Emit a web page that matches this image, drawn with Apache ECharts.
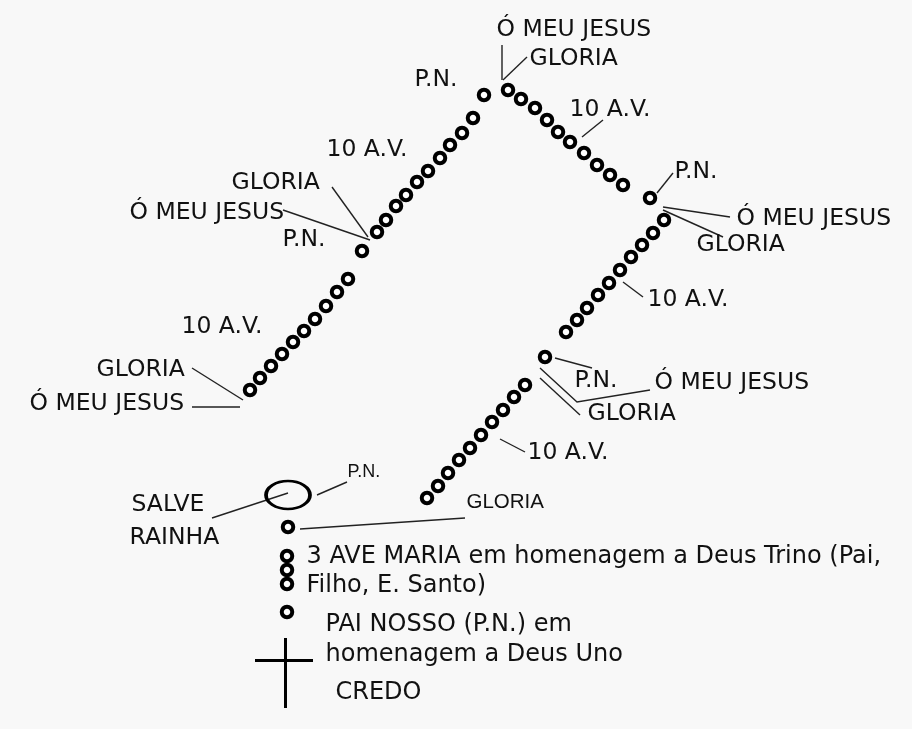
<!DOCTYPE html>
<html>
<head>
<meta charset="utf-8">
<script src="https://cdn.jsdelivr.net/npm/echarts@6/dist/echarts.min.js"></script>
<style>
  html, body { margin: 0; padding: 0; background: #f8f8f8; }
  #chart { width: 912px; height: 729px; }
</style>
</head>
<body>
<div id="chart"></div>
<script>
// Bead positions (x, y in picture pixels, y down)
const decade1 = [[250,390],[260,378],[271,366],[282,354],[293,342],[304,331],[315,319],[326,306],[337,292],[348,279]];
const decade2 = [[377,232],[386,220],[396,206],[406,195],[417,182],[428,171],[440,158],[450,145],[462,133],[473,118]];
const decade3 = [[508,90],[521,99],[535,108],[547,120],[558,132],[570,142],[584,153],[597,165],[610,175],[623,185]];
const decade4 = [[664,220],[653,233],[642,245],[631,257],[620,270],[609,283],[598,295],[587,308],[577,320],[566,332]];
const decade5 = [[525,385],[514,397],[503,410],[492,422],[481,435],[470,448],[459,460],[448,473],[438,486],[427,498]];
const paiNossoBeads = [[362,251],[484,95],[650,198],[545,357]];
const pendantBeads = [[288,527],[287,556],[287,570],[287,584],[287,612]];
const medal = [[288,495]];

// Text labels: [text, left x, middle y]
const mainLabels = [
  ['Ó MEU JESUS', 497, 30],
  ['GLORIA', 530, 59],
  ['P.N.', 415, 80],
  ['10 A.V.', 570, 110],
  ['10 A.V.', 327, 150],
  ['GLORIA', 232, 183],
  ['Ó MEU JESUS', 130, 213],
  ['P.N.', 283, 240],
  ['P.N.', 675, 172],
  ['Ó MEU JESUS', 737, 219],
  ['GLORIA', 697, 245],
  ['10 A.V.', 648, 300],
  ['10 A.V.', 182, 327],
  ['GLORIA', 97, 370],
  ['Ó MEU JESUS', 30, 404],
  ['P.N.', 575, 381],
  ['Ó MEU JESUS', 655, 383],
  ['GLORIA', 588, 414],
  ['10 A.V.', 528, 453],
  ['SALVE', 132, 505],
  ['RAINHA', 130, 538]
];
const noteLabels = [
  ['3 AVE MARIA em homenagem a Deus Trino (Pai,', 307, 557],
  ['Filho, E. Santo)', 307, 586],
  ['PAI NOSSO (P.N.) em', 326, 625],
  ['homenagem a Deus Uno', 326, 655],
  ['CREDO', 336, 693]
];
const smallPN = [['P.N.', 348, 473]];
const smallGloria = [['GLORIA', 467, 503]];

// Leader lines from labels to beads
const leaders = [
  [[502,45],[502,80]],
  [[503,80],[527,57]],
  [[582,137],[603,120]],
  [[657,193],[673,173]],
  [[663,207],[730,217]],
  [[663,210],[723,237]],
  [[332,187],[368,237]],
  [[283,210],[370,240]],
  [[192,368],[243,400]],
  [[192,407],[240,407]],
  [[623,282],[643,297]],
  [[555,358],[592,368]],
  [[540,368],[577,402],[650,390]],
  [[540,378],[580,415]],
  [[500,439],[525,452]],
  [[317,495],[347,482]],
  [[212,518],[288,493]],
  [[300,529],[465,518]]
];
const cross = [
  [[285,638],[285,708]],
  [[255,660],[313,660]]
];

const chart = echarts.init(document.getElementById('chart'));

function textSeries(list, font, size) {
  return {
    type: 'scatter',
    silent: true,
    symbolSize: 1,
    itemStyle: { color: 'rgba(0,0,0,0)', opacity: 1 },
    data: list.map(d => ({ name: d[0], value: [d[1], d[2]] })),
    label: {
      show: true,
      position: [0, 0],
      align: 'left',
      verticalAlign: 'middle',
      formatter: '{b}',
      color: '#111',
      opacity: 1,
      fontFamily: font,
      fontSize: size
    },
    z: 5
  };
}

const allBeads = [].concat(decade1, decade2, decade3, decade4, decade5, paiNossoBeads, pendantBeads);

chart.setOption({
  animation: false,
  backgroundColor: '#f8f8f8',
  grid: { left: 0, right: 0, top: 0, bottom: 0 },
  xAxis: { type: 'value', min: 0, max: 912, show: false },
  yAxis: { type: 'value', min: 0, max: 729, inverse: true, show: false },
  series: [
    {
      type: 'lines',
      coordinateSystem: 'cartesian2d',
      polyline: true,
      silent: true,
      data: leaders.map(c => ({ coords: c })),
      lineStyle: { color: '#222', width: 1.4, opacity: 1 }
    },
    {
      type: 'lines',
      coordinateSystem: 'cartesian2d',
      silent: true,
      data: cross.map(c => ({ coords: c })),
      lineStyle: { color: '#000', width: 3, opacity: 1 }
    },
    {
      type: 'scatter',
      silent: true,
      symbol: 'circle',
      symbolSize: 10.5,
      data: allBeads,
      itemStyle: { color: '#fff', borderColor: '#000', borderWidth: 4, opacity: 1 },
      z: 3
    },
    {
      type: 'scatter',
      silent: true,
      symbol: 'circle',
      symbolSize: [44, 28],
      data: medal,
      itemStyle: { color: 'rgba(0,0,0,0)', borderColor: '#000', borderWidth: 3, opacity: 1 },
      z: 3
    },
    textSeries(mainLabels, 'DejaVu Sans', 23.5),
    textSeries(noteLabels, 'DejaVu Sans', 24),
    textSeries(smallPN, 'Liberation Sans', 18),
    textSeries(smallGloria, 'Liberation Sans', 20.5)
  ]
});

window.addEventListener('resize', () => chart.resize());
</script>
</body>
</html>
